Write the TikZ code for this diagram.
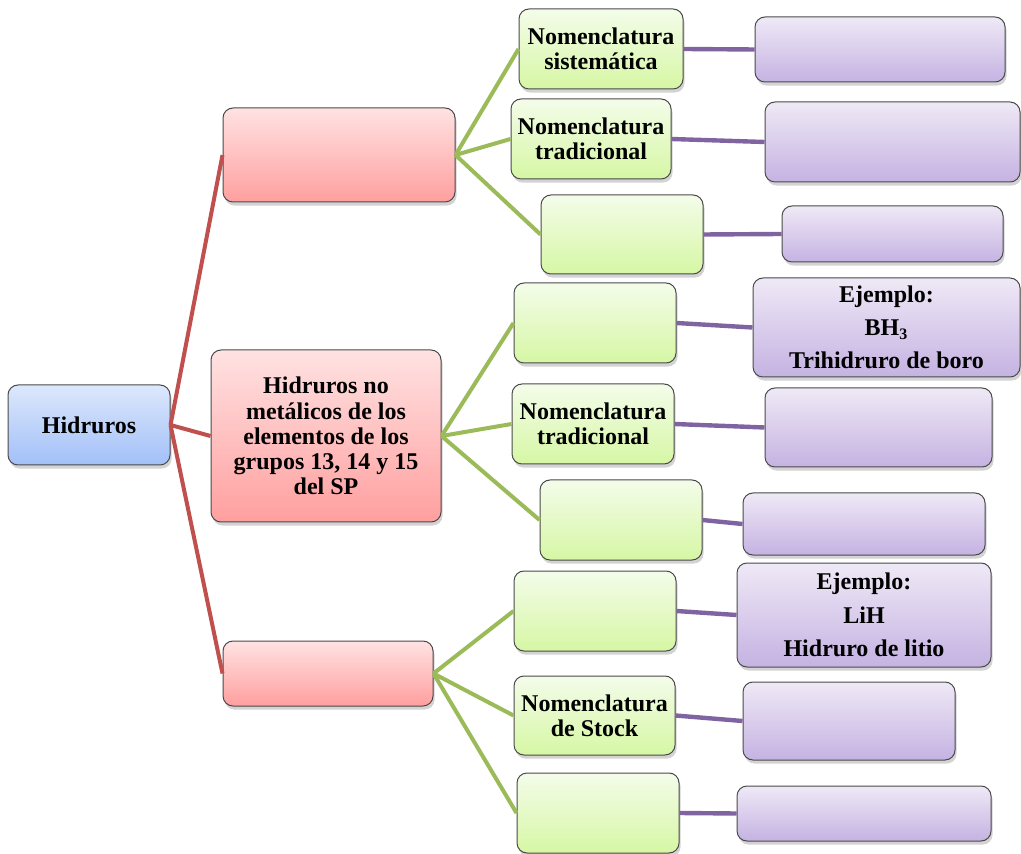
\documentclass[tikz,border=0pt]{standalone}
\usepackage{fontspec}
\setmainfont{Liberation Serif}
\usetikzlibrary{shadows}
\definecolor{rootTop}{HTML}{DCE8FC}
\definecolor{rootBot}{HTML}{A2C0F8}
\definecolor{redTop}{HTML}{FFE2E2}
\definecolor{redBot}{HTML}{FF9F9F}
\definecolor{grnTop}{HTML}{F4FCEA}
\definecolor{grnBot}{HTML}{D6F7A4}
\definecolor{purTop}{HTML}{EFE9F6}
\definecolor{purBot}{HTML}{C5B2E2}
\definecolor{redLine}{HTML}{C0504D}
\definecolor{grnLine}{HTML}{9BBB59}
\definecolor{purLine}{HTML}{8064A2}
\definecolor{boxedge}{HTML}{4A4A4A}

\begin{document}
\begin{tikzpicture}[
  x=0.5pt, y=-0.5pt,
  font=\fontsize{12}{12.6}\selectfont\bfseries,
  sz/.style 2 args={minimum width=#1*0.5pt, minimum height=#2*0.5pt},
  box/.style={rounded corners=5pt, draw=boxedge, line width=0.5pt, inner sep=0pt,
              align=center, drop shadow={shadow xshift=0.8pt, shadow yshift=-1.8pt, opacity=0.35}},
  rootbox/.style={box, top color=rootTop, bottom color=rootBot},
  redbox/.style={box, top color=redTop, bottom color=redBot},
  grnbox/.style={box, top color=grnTop, bottom color=grnBot},
  purbox/.style={box, top color=purTop, bottom color=purBot},
  redln/.style={line width=2pt, draw=redLine},
  grnln/.style={line width=2pt, draw=grnLine},
  purln/.style={line width=2.2pt, draw=purLine},
]
\useasboundingbox (0,0) rectangle (1021,854);

% root and first level
\node[rootbox, sz={162}{80}] (root) at (89,425) {Hidruros};
\node[redbox, sz={232}{94}] (r1) at (339,155) {};
\node[redbox, sz={230}{172}] (r2) at (326,436) {Hidruros no\\metálicos de los\\elementos de los\\grupos 13, 14 y 15\\del SP};
\node[redbox, sz={210}{65}] (r3) at (328,673.5) {};

% second level
\node[grnbox, sz={164}{80}] (g1) at (601,49) {Nomenclatura\\sistemática};
\node[grnbox, sz={160}{80}] (g2) at (591,139) {Nomenclatura\\tradicional};
\node[grnbox, sz={162}{79}] (g3) at (622,234.5) {};
\node[grnbox, sz={162}{80}] (g4) at (595,323) {};
\node[grnbox, sz={162}{80}] (g5) at (593,424) {Nomenclatura\\tradicional};
\node[grnbox, sz={162}{80}] (g6) at (621,520) {};
\node[grnbox, sz={162}{80}] (g7) at (595,611) {};
\node[grnbox, sz={161}{79}] (g8) at (594.5,715.5) {Nomenclatura\\de Stock};
\node[grnbox, sz={162}{80}] (g9) at (598,813) {};

% third level
\node[purbox, sz={250}{65}] (p1) at (880,49.5) {};
\node[purbox, sz={255}{80}] (p2) at (892.5,142) {};
\node[purbox, sz={221}{56}] (p3) at (892.5,234) {};
\node[purbox, sz={267}{99}] (p4) at (886.5,327.5) {Ejemplo:\\[4pt]BH\textsubscript{3}\\[4pt]Trihidruro de boro};
\node[purbox, sz={227}{79}] (p5) at (878.5,427.5) {};
\node[purbox, sz={242}{62}] (p6) at (864,524) {};
\node[purbox, sz={254}{104}] (p7) at (864,615) {Ejemplo:\\[4pt]LiH\\[4pt]Hidruro de litio};
\node[purbox, sz={212}{78}] (p8) at (849,721) {};
\node[purbox, sz={254}{55}] (p9) at (864,813.5) {};

% connectors
\foreach \r in {1,2,3} \draw[redln] (root.east) -- (r\r.west);
\foreach \r/\g in {1/1, 1/2, 1/3, 2/4, 2/5, 2/6, 3/7, 3/8, 3/9} \draw[grnln] (r\r.east) -- (g\g.west);
\foreach \g in {1,...,9} \draw[purln] (g\g.east) -- (p\g.west);
\end{tikzpicture}
\end{document}
